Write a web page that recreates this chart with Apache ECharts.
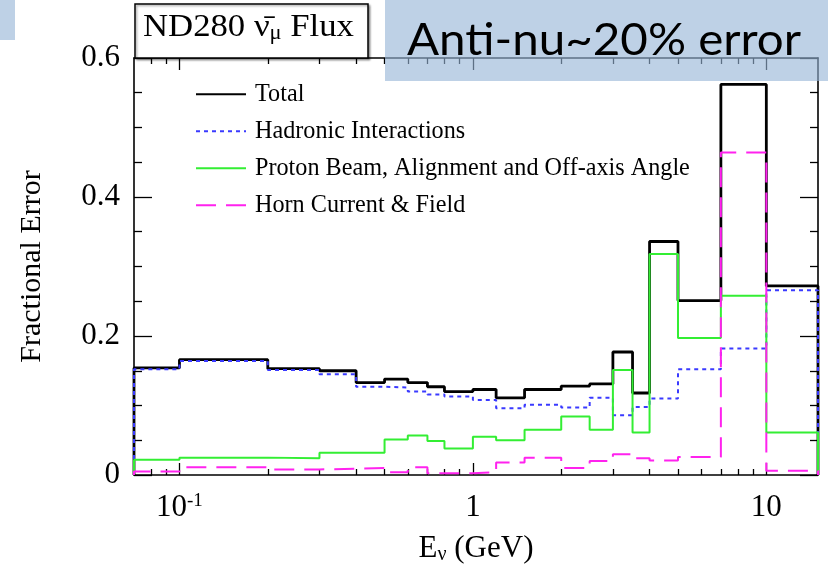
<!DOCTYPE html>
<html>
<head>
<meta charset="utf-8">
<script src="https://cdn.jsdelivr.net/npm/echarts@6/dist/echarts.min.js"></script>
<style>
html,body{margin:0;padding:0;background:#fff;}
#chart{width:828px;height:565px;}
</style>
</head>
<body>
<div id="chart"></div>
<script>
// ---- data ----
const binEdges = [0.07, 0.1, 0.2, 0.3, 0.4, 0.5, 0.6, 0.7, 0.8, 1.0, 1.2, 1.5, 2.0, 2.5, 3.0, 3.5, 4.0, 5.0, 7.0, 10, 15];
const totalErr = [0.154, 0.166, 0.153, 0.150, 0.133, 0.138, 0.133, 0.127, 0.120, 0.123, 0.111, 0.123, 0.128, 0.131, 0.177, 0.118, 0.336, 0.251, 0.562, 0.272];
const hadronicErr = [0.152, 0.164, 0.151, 0.145, 0.127, 0.126, 0.120, 0.116, 0.113, 0.108, 0.096, 0.101, 0.097, 0.111, 0.086, 0.098, 0.110, 0.152, 0.182, 0.266];
const protonErr = [0.022, 0.025, 0.024, 0.032, 0.032, 0.051, 0.057, 0.049, 0.038, 0.055, 0.050, 0.065, 0.084, 0.065, 0.151, 0.061, 0.318, 0.197, 0.258, 0.061];
const hornErr = [0.005, 0.011, 0.008, 0.009, 0.010, 0.004, 0.011, 0.0025, 0.0025, 0.004, 0.018, 0.025, 0.010, 0.020, 0.030, 0.024, 0.021, 0.026, 0.464, 0.006];
const seriesNames = ['Total', 'Hadronic Interactions', 'Proton Beam, Alignment and Off-axis Angle', 'Horn Current & Field'];
const xRange = [0.07, 15];
const xMajorTicks = [0.1, 1, 10];
const xMinorTicks = [0.08, 0.09, 0.2, 0.3, 0.4, 0.5, 0.6, 0.7, 0.8, 0.9, 2, 3, 4, 5, 6, 7, 8, 9];
const yRange = [0, 0.6];
const yStep = 0.2;

const lg = v => Math.log10(v);
function stepData(vals) {
  const n = binEdges.length - 1;
  const d = [[lg(binEdges[0]), 0]];
  vals.forEach((v, i) => d.push([lg(binEdges[i]), v]));
  d.push([lg(binEdges[n]), vals[vals.length - 1]]);
  d.push([lg(binEdges[n]), 0]);
  return d;
}

const serif = 'Liberation Serif';
const xMin = lg(xRange[0]), xMax = lg(xRange[1]);
function xAxisDef(pos, ticks, len, showLine, extra) {
  return Object.assign({
    type: 'value', position: pos, min: xMin, max: xMax,
    splitLine: { show: false },
    axisLine: { show: showLine, onZero: false, lineStyle: { color: '#000', width: 1.6 } },
    axisTick: { show: true, inside: true, length: len, customValues: ticks.map(lg), lineStyle: { color: '#000', width: 1.3 } },
    axisLabel: { show: false }
  }, extra || {});
}
const majorLog = xMajorTicks.map(lg);

const chart = echarts.init(document.getElementById('chart'), null, { renderer: 'canvas' });
const option = {
  animation: false,
  backgroundColor: '#fff',
  grid: { left: 134, top: 58, width: 684, height: 417, containLabel: false, outerBoundsMode: 'none' },
  legend: {
    orient: 'vertical', left: 195, top: 82, padding: 0, itemWidth: 50, itemHeight: 14, itemGap: 12.5,
    data: seriesNames,
    itemStyle: { color: 'rgba(0,0,0,0)', borderColor: 'rgba(0,0,0,0)', borderWidth: 0, opacity: 0 },
    textStyle: { fontFamily: serif, fontSize: 24.2, color: '#000', lineHeight: 24.5, padding: [0, 0, 0, 4] },
    inactiveColor: '#ccc'
  },
  xAxis: [
    xAxisDef('bottom', xMajorTicks, 12, true, {
      axisLabel: {
        show: true, customValues: majorLog, margin: 17, color: '#000',
        formatter: function (v) {
          const e = Math.round(v);
          if (e < 0) return '{b|10}{s|' + e + '}';
          return '{b|' + Math.pow(10, e) + '}';
        },
        rich: {
          b: { fontFamily: serif, fontSize: 31, color: '#000' },
          s: { fontFamily: serif, fontSize: 19, color: '#000', padding: [0, 0, 13, 0] }
        }
      },
      name: '{b|E}{s|ν}{b| (GeV)}', nameLocation: 'middle', nameGap: 58,
      nameTextStyle: {
        rich: {
          b: { fontFamily: serif, fontSize: 31, color: '#000' },
          s: { fontFamily: serif, fontSize: 20, color: '#000', padding: [12, 0, 0, 0] }
        }
      }
    }),
    xAxisDef('bottom', xMinorTicks, 6, false),
    xAxisDef('top', xMajorTicks, 12, true),
    xAxisDef('top', xMinorTicks, 6, false)
  ],
  yAxis: [
    {
      type: 'value', position: 'left', min: yRange[0], max: yRange[1], interval: yStep,
      splitLine: { show: false },
      axisLine: { show: true, onZero: false, lineStyle: { color: '#000', width: 1.6 } },
      axisTick: { show: true, inside: true, length: 18, lineStyle: { color: '#000', width: 1.3 } },
      minorTick: { show: true, splitNumber: 4, length: 8, lineStyle: { color: '#000', width: 1.3 } },
      axisLabel: { color: '#000', fontFamily: serif, fontSize: 31, margin: 14 },
      name: 'Fractional Error', nameLocation: 'middle', nameGap: 87, nameRotate: 90,
      nameTextStyle: { fontFamily: serif, fontSize: 30, color: '#000' }
    },
    {
      type: 'value', position: 'right', min: yRange[0], max: yRange[1], interval: yStep,
      splitLine: { show: false },
      axisLine: { show: true, onZero: false, lineStyle: { color: '#000', width: 1.6 } },
      axisTick: { show: true, inside: true, length: 18, lineStyle: { color: '#000', width: 1.3 } },
      minorTick: { show: true, splitNumber: 4, length: 8, lineStyle: { color: '#000', width: 1.3 } },
      axisLabel: { show: false }
    }
  ],
  series: [
    { name: seriesNames[0], type: 'line', step: 'end', symbol: 'none', data: stepData(totalErr),
      color: '#000', lineStyle: { color: '#000', width: 2.8 }, z: 3 },
    { name: seriesNames[1], type: 'line', step: 'end', symbol: 'none', data: stepData(hadronicErr),
      color: '#3a3aff', lineStyle: { color: '#3a3aff', width: 2, type: [4, 4] }, z: 4 },
    { name: seriesNames[2], type: 'line', step: 'end', symbol: 'none', data: stepData(protonErr),
      color: '#33ee33', lineStyle: { color: '#33ee33', width: 2 }, z: 5 },
    { name: seriesNames[3], type: 'line', step: 'end', symbol: 'none', data: stepData(hornErr),
      color: '#ff22ee', lineStyle: { color: '#ff22ee', width: 2, type: [20, 10] }, z: 6 }
  ],
  graphic: [
    { type: 'rect', z: 100, shape: { x: 135, y: 4, width: 233, height: 54 },
      style: { fill: '#fff', stroke: '#000', lineWidth: 1.5, shadowBlur: 2, shadowOffsetX: 1.5, shadowOffsetY: 1.5, shadowColor: 'rgba(0,0,0,0.35)' } },
    { type: 'text', z: 101, x: 143, y: 11, scaleX: 1.12,
      style: { text: '{t|ND280 ν\u0304}{s|μ}{t| Flux}', fill: '#000',
        rich: { t: { fontFamily: serif, fontSize: 31, fill: '#000', color: '#000' },
                s: { fontFamily: serif, fontSize: 20, fill: '#000', color: '#000', padding: [13, 0, 0, 0] } } } },
    { type: 'rect', z: 110, shape: { x: 385, y: 0, width: 443, height: 81 },
      style: { fill: 'rgba(150,180,215,0.62)' } },
    { type: 'rect', z: 110, shape: { x: 0, y: 0, width: 15, height: 40 },
      style: { fill: 'rgba(150,180,215,0.62)' } },
    { type: 'text', z: 120, x: 407, y: 19, scaleX: 1.08,
      style: { text: 'Anti-nu~20% error', font: '44px Lato', fill: '#000' } }
  ]
};
chart.setOption(option);
</script>
</body>
</html>
